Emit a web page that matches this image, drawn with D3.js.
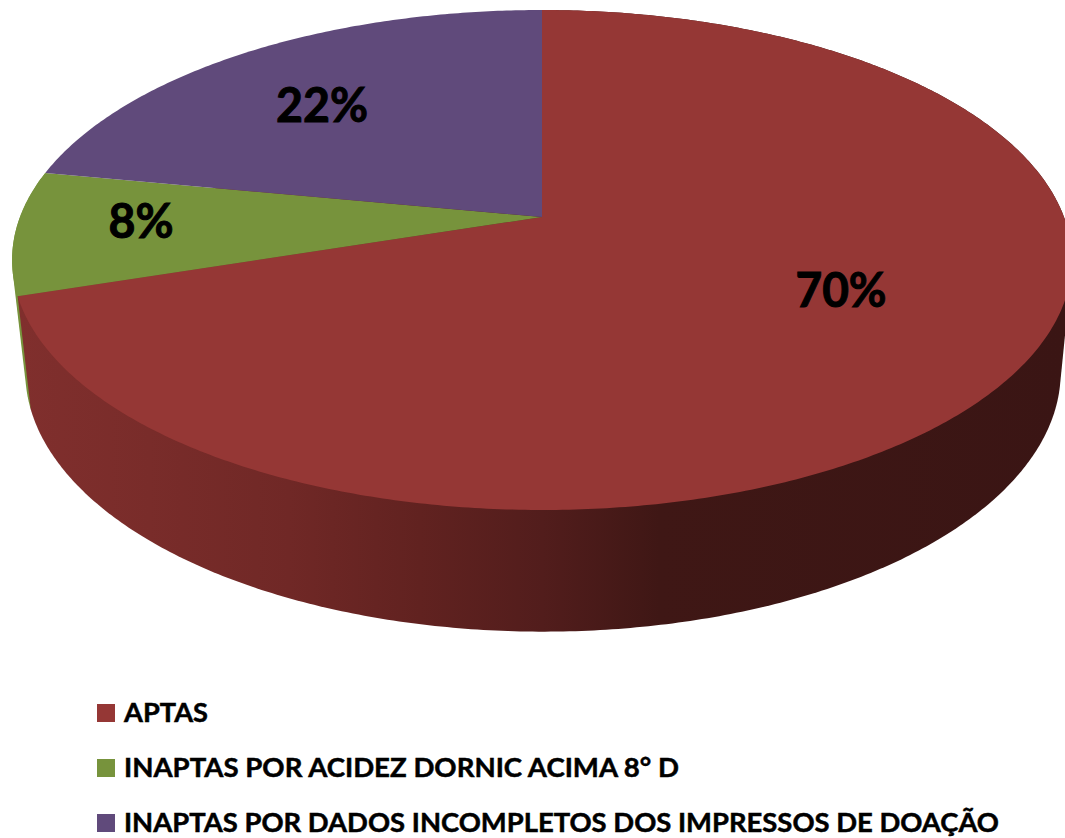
<!DOCTYPE html>
<html>
<head>
<meta charset="utf-8">
<style>
  body { margin: 0; background: #fff; }
  svg { display: block; }
  text { font-family: Lato, "Open Sans", sans-serif; font-weight: 700; fill: #000; stroke: #000; stroke-width: 0.5; }
</style>
</head>
<body>
<svg width="1065" height="838"></svg>
<script src="https://d3js.org/d3.v7.min.js"></script>
<script>
  var categories = ["APTAS", "INAPTAS POR ACIDEZ DORNIC ACIMA 8° D", "INAPTAS POR DADOS INCOMPLETOS DOS IMPRESSOS DE DOAÇÃO"];
  var values = [70, 8, 22];
  var colors = ["#953735", "#77933C", "#604A7B"];

  // label centres and legend text widths, measured on the picture
  var labelX = [841, 141, 322],
      labelY = [307, 238, 122],
      labelW = [91, 65, 92],
      legendW = [84, 555, 875];

  var svg = d3.select("svg");

  // tilted disc: a circle seen in perspective, c is the perspective term
  var c = -0.172;
  function project(angle, disc) {
    var x = Math.sin(angle), y = -Math.cos(angle), w = 1 + c * y;
    return [disc.cx + disc.rx * x / w, (disc.ay * y + disc.cy) / w];
  }
  var topDisc = {cx: 542, rx: 522, ay: 205.28, cy: 217},
      bottomDisc = {cx: 543, rx: 510, ay: 196, cy: 327};

  function arcPoints(a0, a1, disc) {
    var n = Math.ceil((a1 - a0) / 0.01);
    return d3.range(n + 1).map(function(i) {
      return project(a0 + (a1 - a0) * i / n, disc);
    });
  }

  var line = d3.line();
  var slices = d3.pie().sort(null).value(function(d) { return d; })(values);

  // side wall gradient
  var grad = svg.append("defs").append("linearGradient")
      .attr("id", "wall")
      .attr("gradientUnits", "userSpaceOnUse")
      .attr("x1", 20).attr("x2", 1065).attr("y1", 0).attr("y2", 0);
  [[0, "#802f2d"], [0.124, "#792c2a"], [0.258, "#702826"], [0.383, "#612220"], [0.5, "#521d1c"], [0.612, "#3f1715"], [1, "#3a1514"]].forEach(function(s) {
    grad.append("stop").attr("offset", s[0]).attr("stop-color", s[1]);
  });

  // walls, green first so only its sliver stays visible
  // the hull gives the straight silhouette edges between the two discs
  [1, 0].forEach(function(i) {
    var s = slices[i];
    var hull = d3.polygonHull(arcPoints(s.startAngle, s.endAngle, topDisc)
      .concat(arcPoints(s.startAngle, s.endAngle, bottomDisc)));
    svg.append("path")
      .attr("d", line(hull) + "Z")
      .attr("fill", i === 0 ? "url(#wall)" : colors[i]);
  });

  // top faces
  svg.selectAll("path.face")
    .data(slices)
    .enter().append("path")
    .attr("class", "face")
    .attr("fill", function(d) { return colors[d.index]; })
    .attr("d", function(d) {
      return line([[topDisc.cx, topDisc.cy]].concat(arcPoints(d.startAngle, d.endAngle, topDisc))) + "Z";
    });

  // percent labels
  svg.selectAll("text.pct")
    .data(slices)
    .enter().append("text")
    .attr("class", "pct")
    .attr("x", function(d) { return labelX[d.index]; })
    .attr("y", function(d) { return labelY[d.index]; })
    .attr("text-anchor", "middle")
    .attr("font-size", 48)
    .style("stroke-width", 1)
    .attr("textLength", function(d) { return labelW[d.index]; })
    .attr("lengthAdjust", "spacingAndGlyphs")
    .text(function(d) { return d.value + "%"; });

  // legend
  var legendY = d3.scalePoint().domain(categories).range([722, 832]);
  var legend = svg.selectAll("g.legend")
    .data(categories)
    .enter().append("g")
    .attr("class", "legend")
    .attr("transform", function(d) { return "translate(97," + legendY(d) + ")"; });
  legend.append("rect")
    .attr("y", -18).attr("width", 18).attr("height", 18)
    .attr("fill", function(d, i) { return colors[i]; });
  legend.append("text")
    .attr("x", 27)
    .attr("font-size", 27.5)
    .attr("textLength", function(d, i) { return legendW[i]; })
    .attr("lengthAdjust", "spacingAndGlyphs")
    .text(function(d) { return d; });
</script>
</body>
</html>
